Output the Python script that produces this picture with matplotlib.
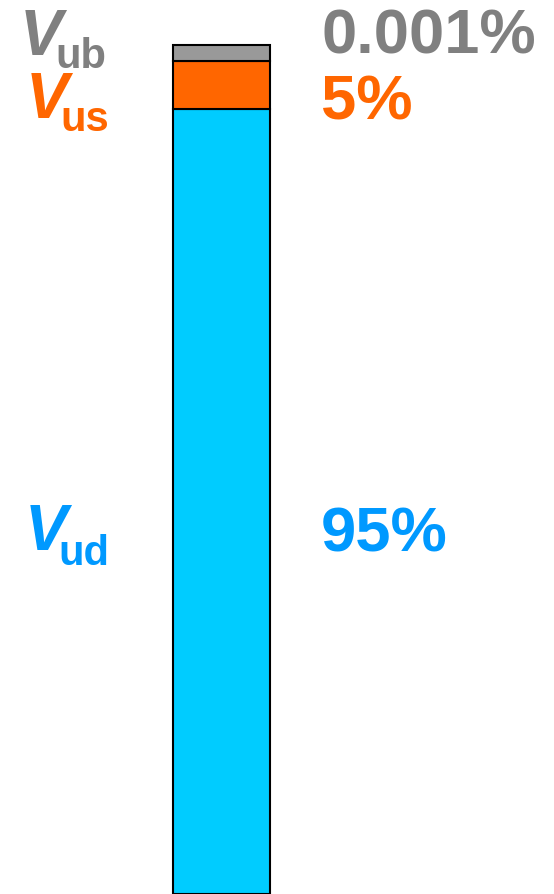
import matplotlib.pyplot as plt

# CKM row: |Vud|, |Vus|, |Vub| (bottom to top)
names = ['ud', 'us', 'ub']
shares = [92.5, 5.65, 1.88]          # drawn segment heights (visual)
pct_labels = ['95%', '5%', '0.001%']
bar_colors = ['#00CCFF', '#FF6600', '#999999']
text_colors = ['#0099FF', '#FF6600', '#808080']

W, H = 554, 895
fig = plt.figure(figsize=(W / 100, H / 100), dpi=100)
ax = fig.add_axes([0, 0, 1, 1])
ax.axis('off')

bar_left, bar_w, bar_top = 173, 97, 46
ax.set_xlim(-bar_left / bar_w, (W - bar_left) / bar_w)
ax.set_ylim(0, 100 * H / (H - bar_top))

bottom = 0
for s, c in zip(shares, bar_colors):
    ax.bar(0, s, width=1, bottom=bottom, align='edge', color=c,
           edgecolor='black', linewidth=1.5)
    bottom += s

# label baselines in pixels (V, subscript, percentage)
v_base = [550, 118, 55]
sub_base = [565, 131, 68]
pct_base = [552, 119, 54]
v_x = [25, 26, 20]
sub_x = [58, 60, 55]

font = 'Liberation Sans'
for i in range(3):
    c = text_colors[i]
    fig.text(v_x[i] / W, 1 - v_base[i] / H, 'V', color=c, fontsize=46,
             fontweight='bold', fontstyle='italic', family=font, va='baseline')
    fig.text(sub_x[i] / W, 1 - sub_base[i] / H, names[i], color=c, fontsize=30,
             fontweight='bold', family=font, va='baseline')
    fig.text(321 / W, 1 - pct_base[i] / H, pct_labels[i], color=c, fontsize=45.5,
             fontweight='bold', family=font, va='baseline')

fig.savefig('out.png', dpi=100)
